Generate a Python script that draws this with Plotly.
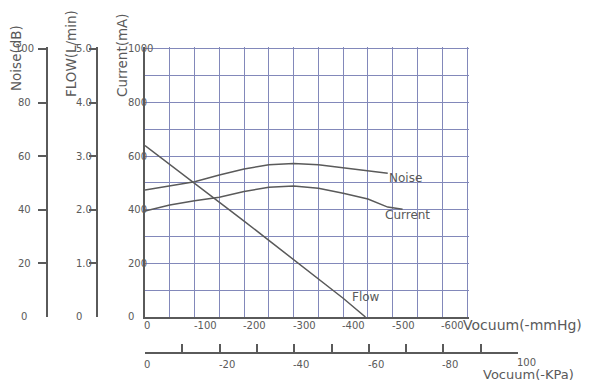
import plotly.graph_objects as go

W, H = 596, 388

# ---- data ----
vac_mmhg = [0, -50, -100, -150, -200, -250, -300, -350, -400, -450, -490]
noise_db = [47.4, 48.9, 50.5, 53.0, 55.2, 56.8, 57.3, 56.8, 55.6, 54.6, 53.6]

cur_x = [0, -50, -100, -150, -200, -250, -300, -350, -400, -450, -490, -520]
current_ma = [395, 418, 434, 447, 468, 484, 489, 480, 462, 440, 410, 402]

flow_x = [0, -50, -100, -150, -200, -250, -300, -350, -400, -445]
flow_lpm = [3.2, 2.85, 2.5, 2.15, 1.79, 1.43, 1.07, 0.71, 0.35, 0.0]

mmhg_ticks = [0, -100, -200, -300, -400, -500, -600]
mmhg_labels = ["0", "-100", "-200", "-300", "-400", "-500", "-600"]
kpa_ticks = [0, -20, -40, -60, -80, -100]
kpa_labels = ["0", "-20", "-40", "-60", "-80", "100"]
noise_ticks = [0, 20, 40, 60, 80, 100]
flow_ticks = [0, 1, 2, 3, 4, 5]
flow_labels = ["0", "1.0", "2.0", "3.0", "4.0", "5.0"]
cur_ticks = [0, 200, 400, 600, 800, 1000]

# ---- style ----
INK = "#5a5a5a"
GRID = "#8288ba"
FONT = "DejaVu Sans"


def px(x):
    return x / W


def py(y):
    return 1 - y / H


# grid box: x 0..-650 mmHg over pixels 145..467, y 0..1000 over pixels 317..49.
# Ranges are padded slightly (domain padded equally) so the edge gridlines are drawn.
X0, X1, XMAX = 145, 467, 654
Y0, Y1, YMAX = 317, 49, 1008
x_end = X0 + XMAX * (X1 - X0) / 650
y_top = Y0 - YMAX * (Y0 - Y1) / 1000

fig = go.Figure()
fig.add_trace(go.Scatter(x=vac_mmhg, y=noise_db, mode="lines", yaxis="y2",
                         line=dict(color=INK, width=1.5), showlegend=False, hoverinfo="skip"))
fig.add_trace(go.Scatter(x=cur_x, y=current_ma, mode="lines", yaxis="y",
                         line=dict(color=INK, width=1.5), showlegend=False, hoverinfo="skip"))
fig.add_trace(go.Scatter(x=flow_x, y=flow_lpm, mode="lines", yaxis="y3",
                         line=dict(color=INK, width=1.5), showlegend=False, hoverinfo="skip"))
# carrier for the KPa axis (own thin subplot below the grid)
fig.add_trace(go.Scatter(x=[None], y=[None], xaxis="x2", yaxis="y4", mode="lines",
                         showlegend=False, hoverinfo="skip"))

fig.update_layout(
    width=W, height=H, autosize=False,
    margin=dict(l=0, r=0, t=0, b=0),
    paper_bgcolor="white", plot_bgcolor="rgba(0,0,0,0)",
    font=dict(family=FONT, color=INK, size=10),
    xaxis=dict(domain=[px(X0), px(x_end)], range=[0, -XMAX],
               tickvals=list(range(0, -651, -50)),
               showgrid=True, gridcolor=GRID, gridwidth=1,
               showline=True, linecolor=INK, linewidth=1.5,
               showticklabels=False, ticks="", zeroline=False, anchor="y"),
    yaxis=dict(domain=[py(Y0), py(y_top)], range=[0, YMAX],
               tickvals=list(range(0, 1001, 100)),
               showgrid=True, gridcolor=GRID, gridwidth=1,
               showline=True, linecolor=INK, linewidth=1.5,
               showticklabels=False, ticks="", zeroline=False, anchor="x"),
    yaxis2=dict(overlaying="y", anchor="free", position=px(47), side="left",
                range=[0, YMAX / 10], tickvals=noise_ticks[1:], ticks="outside", ticklen=8,
                tickcolor=INK, tickwidth=1.5, showline=True, linecolor=INK, linewidth=1.5,
                showgrid=False, zeroline=False, showticklabels=False),
    yaxis3=dict(overlaying="y", anchor="free", position=px(97), side="left",
                range=[0, YMAX / 200], tickvals=flow_ticks[1:], ticks="outside", ticklen=7,
                tickcolor=INK, tickwidth=1.5, showline=True, linecolor=INK, linewidth=1.5,
                showgrid=False, zeroline=False, showticklabels=False),
    xaxis2=dict(domain=[px(145), px(518)], anchor="y4",
                range=[0, -100], tickvals=list(range(0, -101, -10)),
                ticks="inside", ticklen=8, tickcolor=INK, tickwidth=1.5,
                showline=True, linecolor=INK, linewidth=1.5,
                showgrid=False, zeroline=False, showticklabels=False),
    yaxis4=dict(domain=[py(352), py(344)], anchor="x2", visible=False,
                showgrid=False, zeroline=False, range=[0, 1]),
)

ann = []
# x tick labels (mmHg)
for v, t in zip(mmhg_ticks, mmhg_labels):
    ann.append(dict(x=v, xref="x", y=py(325), yref="paper", text=t, showarrow=False,
                    xanchor="left", yanchor="middle", xshift=-3, font=dict(size=10)))
# KPa tick labels
for v, t in zip(kpa_ticks, kpa_labels):
    ann.append(dict(x=v, xref="x2", y=py(362 if t == "100" else 364), yref="paper", text=t,
                    showarrow=False, xanchor="left", yanchor="middle", xshift=-3,
                    font=dict(size=10)))
# noise tick labels
for v in noise_ticks:
    ann.append(dict(x=px(24), xref="paper", y=v, yref="y2", text=str(v), showarrow=False,
                    xanchor="center", yanchor="middle", font=dict(size=10)))
# flow tick labels
for v, t in zip(flow_ticks, flow_labels):
    ann.append(dict(x=px(74), xref="paper", y=v, yref="y3", text=t, showarrow=False,
                    xanchor="left", yanchor="middle", font=dict(size=10)))
# current tick labels
for v in cur_ticks:
    ann.append(dict(x=px(126), xref="paper", y=v, yref="y", text=str(v), showarrow=False,
                    xanchor="left", yanchor="middle", font=dict(size=10)))

# axis titles
ann += [
    dict(x=px(461), y=py(325), xref="paper", yref="paper", text="Vocuum(-mmHg)",
         showarrow=False, xanchor="left", yanchor="middle", font=dict(size=14)),
    dict(x=px(481), y=py(374), xref="paper", yref="paper", text="Vocuum(-KPa)",
         showarrow=False, xanchor="left", yanchor="middle", font=dict(size=13)),
    dict(x=px(16), y=py(58), xref="paper", yref="paper", text="Noise(dB)", textangle=-90,
         showarrow=False, xanchor="center", yanchor="middle", font=dict(size=13.5)),
    dict(x=px(71), y=py(54), xref="paper", yref="paper", text="FLOW(L/min)", textangle=-90,
         showarrow=False, xanchor="center", yanchor="middle", font=dict(size=13.5)),
    dict(x=px(122), y=py(55), xref="paper", yref="paper", text="Current(mA)", textangle=-90,
         showarrow=False, xanchor="center", yanchor="middle", font=dict(size=13.5)),
    # curve labels
    dict(x=px(405), y=py(178), xref="paper", yref="paper", text="Noise",
         showarrow=False, xanchor="center", yanchor="middle", font=dict(size=12)),
    dict(x=px(407), y=py(215), xref="paper", yref="paper", text="Current",
         showarrow=False, xanchor="center", yanchor="middle", font=dict(size=12)),
    dict(x=px(366), y=py(297), xref="paper", yref="paper", text="Flow",
         showarrow=False, xanchor="center", yanchor="middle", font=dict(size=12)),
]
fig.update_layout(annotations=ann)

fig.write_html("out.html", config={"displayModeBar": False},
               post_script="document.body.style.margin='0';document.body.style.padding='0';")
